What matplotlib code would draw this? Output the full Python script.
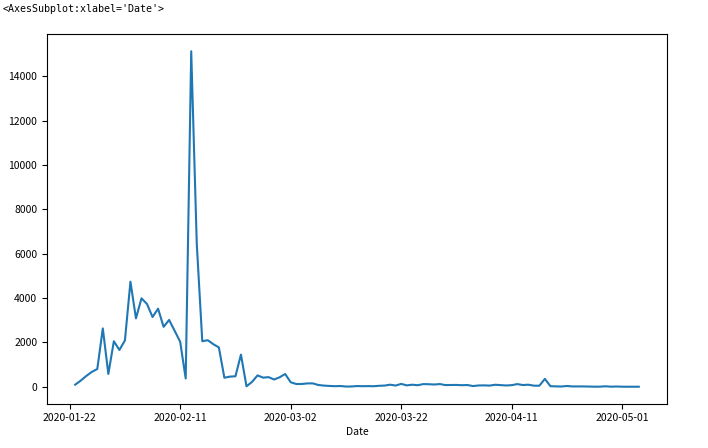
import pandas as pd
import matplotlib
matplotlib.use("Agg")
import matplotlib.pyplot as plt

plt.rcParams['font.family'] = ['Noto Sans CJK SC', 'DejaVu Sans']

# daily new confirmed cases, 2020-01-23 .. 2020-05-04
new_cases = [
    95, 277, 486, 669, 802, 2632, 578, 2054, 1661, 2089,
    4739, 3086, 3991, 3733, 3147, 3523, 2704, 3015, 2525, 2032,
    373, 15136, 6463, 2055, 2100, 1921, 1777, 408, 458, 473,
    1451, 21, 219, 513, 412, 434, 328, 428, 576, 204,
    125, 125, 151, 153, 80, 53, 37, 27, 34, 11,
    13, 32, 26, 30, 25, 44, 54, 94, 55, 130,
    63, 93, 70, 121, 115, 102, 123, 76, 81, 82,
    71, 79, 32, 59, 63, 53, 91, 74, 58, 73,
    120, 79, 93, 50, 47, 357, 27, 18, 12, 36,
    15, 16, 15, 10, 3, 6, 22, 4, 12, 3,
    2, 2, 3,
]
dates = pd.date_range("2020-01-23", periods=len(new_cases), freq="D")
tick_dates = pd.to_datetime(["2020-01-22", "2020-02-11", "2020-03-02",
                             "2020-03-22", "2020-04-11", "2020-05-01"])
tick_labels = [d.strftime("%Y-%m-%d") for d in tick_dates]

fig = plt.figure(figsize=(7.08, 4.48), dpi=100)
ax = fig.add_axes([47 / 708, 1 - 403.5 / 448, 620 / 708, 369 / 448])
ax.plot(dates, new_cases, color="#1f77b4", linewidth=1.5)
ax.set_xticks(tick_dates)
ax.set_xticklabels(tick_labels)
ax.set_yticks(range(0, 16000, 2000))
ax.tick_params(labelsize=7.5)
ax.set_xlabel("Date", fontsize=7.5, labelpad=3)

fig.text(3 / 708, 1 - 9 / 448, "<AxesSubplot:xlabel='Date'>",
         family="DejaVu Sans Mono", fontsize=7.2, va="center", ha="left")

fig.savefig("out.png", dpi=100)
